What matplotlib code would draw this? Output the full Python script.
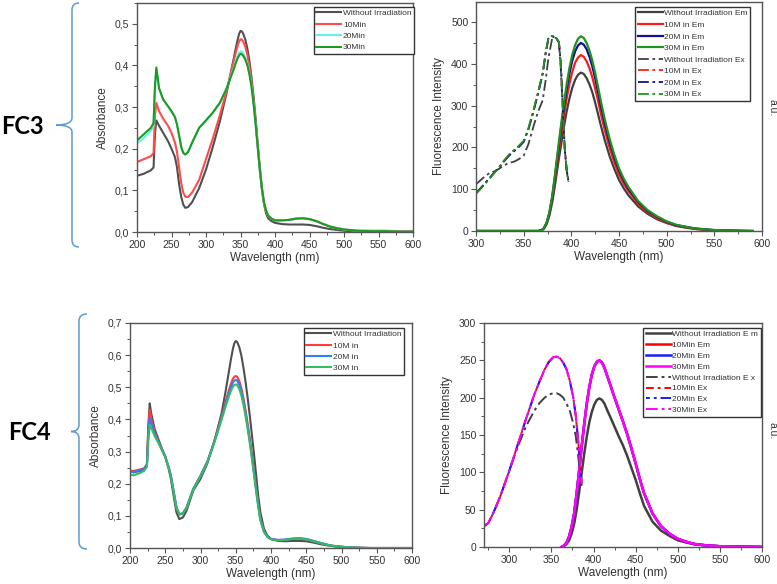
"""
plot.py

UV-Vis absorbance and fluorescence spectra of FC3 / FC4 before and after irradiation.
"""

import matplotlib
matplotlib.use("Agg")
import matplotlib.pyplot as plt
from matplotlib.path import Path
from matplotlib.patches import PathPatch
from matplotlib.ticker import MultipleLocator, FuncFormatter

plt.rcParams["font.family"] = ["Liberation Sans", "DejaVu Sans"]

# ---------------- FC3 absorbance ----------------
wl_abs3 = [200, 210, 220, 224, 226, 228, 232, 238, 245, 250, 255, 258, 261, 264, 267, 270, 274, 280,
           290, 300, 310, 320, 330, 335, 340, 343, 346, 348, 350, 352, 354, 357, 360, 363, 366, 369,
           372, 375, 378, 381, 384, 387, 390, 395, 400, 410, 420, 430, 440, 450, 460, 470, 480, 490,
           500, 520, 540, 560, 580, 600]
abs3_0 = [0.135, 0.140, 0.148, 0.155, 0.235, 0.268, 0.255, 0.238, 0.218, 0.200, 0.180, 0.155, 0.115, 0.085, 0.066, 0.058, 0.060, 0.072,
          0.105, 0.150, 0.205, 0.265, 0.335, 0.375, 0.415, 0.440, 0.463, 0.476, 0.483, 0.482, 0.476, 0.462, 0.440, 0.410, 0.370, 0.325,
          0.270, 0.210, 0.155, 0.105, 0.068, 0.045, 0.033, 0.026, 0.022, 0.019, 0.018, 0.018, 0.018, 0.017, 0.014, 0.010, 0.007, 0.005,
          0.003, 0.001, 0.0005, 0.0, 0.0, 0.0]
abs3_10 = [0.168, 0.175, 0.182, 0.190, 0.280, 0.310, 0.290, 0.272, 0.255, 0.238, 0.215, 0.192, 0.155, 0.118, 0.095, 0.085, 0.084, 0.095,
           0.125, 0.175, 0.225, 0.280, 0.340, 0.375, 0.410, 0.430, 0.448, 0.458, 0.463, 0.462, 0.457, 0.445, 0.425, 0.397, 0.360, 0.315,
           0.262, 0.205, 0.150, 0.103, 0.070, 0.050, 0.038, 0.031, 0.028, 0.028, 0.029, 0.032, 0.033, 0.031, 0.026, 0.019, 0.013, 0.009,
           0.006, 0.003, 0.003, 0.003, 0.002, 0.002]
abs3_20 = [0.213, 0.226, 0.243, 0.255, 0.345, 0.392, 0.345, 0.318, 0.302, 0.290, 0.276, 0.258, 0.232, 0.205, 0.190, 0.186, 0.192, 0.215,
           0.250, 0.268, 0.287, 0.310, 0.345, 0.370, 0.393, 0.409, 0.424, 0.430, 0.434, 0.433, 0.429, 0.419, 0.404, 0.380, 0.349, 0.308,
           0.258, 0.203, 0.150, 0.105, 0.072, 0.052, 0.040, 0.032, 0.028, 0.028, 0.029, 0.032, 0.033, 0.031, 0.026, 0.019, 0.013, 0.009,
           0.006, 0.003, 0.002, 0.002, 0.001, 0.001]
abs3_30 = [0.220, 0.235, 0.250, 0.262, 0.350, 0.395, 0.345, 0.318, 0.302, 0.290, 0.276, 0.258, 0.232, 0.205, 0.190, 0.186, 0.192, 0.215,
           0.250, 0.268, 0.287, 0.310, 0.345, 0.368, 0.390, 0.405, 0.418, 0.424, 0.428, 0.427, 0.423, 0.414, 0.400, 0.378, 0.348, 0.307,
           0.258, 0.203, 0.150, 0.105, 0.072, 0.052, 0.040, 0.032, 0.028, 0.028, 0.029, 0.032, 0.033, 0.031, 0.026, 0.019, 0.013, 0.009,
           0.006, 0.003, 0.002, 0.002, 0.001, 0.001]

# ---------------- FC3 fluorescence ----------------
em_wl3 = [300, 360, 365, 368, 371, 374, 377, 380, 383, 386, 389, 392, 395, 398, 401, 404, 407, 410,
          413, 416, 419, 422, 425, 428, 431, 435, 440, 445, 450, 455, 460, 470, 480, 490, 500, 510,
          520, 530, 540, 550, 560, 570, 580, 590]
em3_0 = [0, 0, 0, 1, 5, 16, 37, 69, 112, 159, 203, 246, 285, 317, 343, 362, 374, 379,
         376, 366, 351, 332, 307, 280, 252, 218, 180, 149, 122, 102, 85, 59, 41, 28, 19, 12,
         8, 5, 3, 2, 1, 0.5, 0, 0]
em3_10 = [0, 0, 0, 1, 5, 18, 41, 77, 125, 176, 226, 273, 316, 352, 381, 403, 415, 421,
          417, 406, 390, 368, 341, 312, 280, 242, 200, 165, 135, 113, 95, 65, 45, 31, 20, 13,
          9, 5, 3, 2, 1, 0.5, 0, 0]
em3_20 = [0, 0, 0, 1, 6, 19, 43, 82, 133, 188, 242, 292, 338, 377, 408, 430, 444, 450,
          446, 435, 417, 394, 365, 333, 299, 259, 214, 177, 145, 121, 101, 70, 48, 34, 22, 14,
          10, 6, 4, 2, 1.5, 1, 0.5, 0]
em3_30 = [0, 0, 0, 1, 6, 20, 45, 85, 138, 195, 250, 302, 350, 390, 422, 445, 460, 466,
          462, 450, 432, 408, 378, 345, 310, 268, 222, 183, 150, 125, 105, 72, 50, 35, 23, 15,
          10, 6, 4, 2.5, 1.5, 1, 0.5, 0]

ex_wl3 = [300, 305, 310, 315, 320, 325, 330, 335, 340, 345, 350, 355, 360, 365, 370,
          373, 376, 380, 384, 387, 389, 391, 393, 395, 397]
ex3_0 = [112, 122, 132, 140, 143, 150, 158, 163, 166, 172, 180, 208, 248, 285, 313,
         360, 415, 462, 462, 450, 385, 295, 200, 145, 118]
ex3_10 = [90, 102, 115, 128, 142, 155, 170, 183, 193, 203, 215, 245, 285, 330, 378,
          425, 462, 467, 462, 452, 400, 300, 200, 150, 118]
ex3_20 = [91, 103, 116, 129, 142, 154, 168, 181, 191, 201, 213, 243, 283, 328, 376,
          424, 461, 466, 461, 451, 398, 298, 198, 148, 118]
ex3_30 = [89, 101, 114, 127, 141, 155, 170, 184, 194, 204, 216, 246, 287, 332, 379,
          427, 463, 467, 463, 453, 402, 302, 202, 152, 118]

# ---------------- FC4 absorbance ----------------
wl_abs4 = [200, 205, 210, 215, 220, 224, 226, 228, 230, 235, 240, 245, 250, 255, 258, 262, 266, 270,
           275, 280, 290, 300, 310, 320, 330, 335, 340, 343, 346, 348, 350, 352, 355, 358, 361, 364,
           367, 370, 373, 376, 379, 382, 385, 390, 395, 400, 410, 420, 430, 440, 450, 460, 470, 480,
           490, 500, 510, 520, 540, 560, 580, 600]
abs4_0 = [0.240, 0.235, 0.238, 0.240, 0.245, 0.260, 0.380, 0.450, 0.420, 0.370, 0.340, 0.310, 0.285, 0.245, 0.215, 0.160, 0.110, 0.090,
          0.095, 0.115, 0.180, 0.215, 0.265, 0.335, 0.420, 0.480, 0.545, 0.585, 0.620, 0.637, 0.644, 0.641, 0.625, 0.598, 0.560, 0.515,
          0.465, 0.410, 0.350, 0.290, 0.225, 0.160, 0.110, 0.060, 0.038, 0.028, 0.022, 0.021, 0.022, 0.022, 0.021, 0.017, 0.012, 0.008,
          0.005, 0.003, 0.002, 0.001, 0.0, 0.0, 0.0, 0.0]
abs4_10 = [0.240, 0.240, 0.242, 0.245, 0.248, 0.260, 0.370, 0.430, 0.405, 0.360, 0.335, 0.310, 0.285, 0.250, 0.225, 0.175, 0.125, 0.105,
           0.108, 0.125, 0.185, 0.225, 0.270, 0.335, 0.410, 0.450, 0.490, 0.510, 0.527, 0.533, 0.535, 0.533, 0.520, 0.497, 0.465, 0.428,
           0.385, 0.340, 0.290, 0.237, 0.183, 0.133, 0.090, 0.052, 0.035, 0.028, 0.025, 0.026, 0.029, 0.030, 0.028, 0.022, 0.016, 0.010,
           0.006, 0.004, 0.002, 0.001, 0.0, 0.0, 0.0, 0.0]
abs4_20 = [0.238, 0.236, 0.240, 0.242, 0.246, 0.258, 0.350, 0.405, 0.390, 0.355, 0.332, 0.308, 0.284, 0.250, 0.225, 0.175, 0.125, 0.105,
           0.108, 0.125, 0.185, 0.225, 0.270, 0.333, 0.405, 0.443, 0.480, 0.499, 0.515, 0.521, 0.523, 0.521, 0.508, 0.486, 0.455, 0.419,
           0.377, 0.333, 0.284, 0.232, 0.179, 0.130, 0.088, 0.051, 0.035, 0.028, 0.025, 0.026, 0.029, 0.030, 0.028, 0.022, 0.016, 0.010,
           0.006, 0.004, 0.002, 0.001, 0.0, 0.0, 0.0, 0.0]
abs4_30 = [0.228, 0.226, 0.230, 0.234, 0.240, 0.252, 0.335, 0.383, 0.375, 0.348, 0.328, 0.305, 0.282, 0.248, 0.222, 0.172, 0.123, 0.104,
           0.107, 0.124, 0.183, 0.223, 0.268, 0.330, 0.400, 0.436, 0.470, 0.488, 0.502, 0.507, 0.509, 0.507, 0.495, 0.474, 0.444, 0.409,
           0.368, 0.325, 0.277, 0.226, 0.175, 0.127, 0.086, 0.050, 0.034, 0.027, 0.024, 0.025, 0.028, 0.029, 0.027, 0.021, 0.015, 0.010,
           0.006, 0.004, 0.002, 0.001, 0.0, 0.0, 0.0, 0.0]

# ---------------- FC4 fluorescence ----------------
ex_wl4 = [270, 275, 280, 285, 290, 300, 310, 320, 330, 336, 342, 347, 352, 356, 360, 364,
          368, 372, 376, 379, 382, 384, 386]
ex4_0 = [28, 32, 43, 56, 70, 102, 134, 162, 183, 193, 200, 204, 206, 206, 204, 200,
         192, 182, 165, 148, 120, 100, 82]
ex4_irr = [28, 32, 43, 56, 70, 102, 137, 172, 205, 222, 238, 248, 254, 255, 253, 247,
           238, 222, 200, 175, 140, 110, 85]

em_wl4 = [362, 365, 368, 371, 374, 377, 380, 383, 386, 389, 392, 395, 398, 401, 404, 407, 410, 413, 416,
          420, 425, 430, 435, 440, 445, 450, 455, 460, 470, 480, 490, 500, 510, 520, 535, 550, 570, 600]
em4_0 = [0, 1, 4, 9, 18, 31, 50, 74, 100, 125, 148, 167, 181, 191, 197, 199, 197, 192, 184,
         174, 161, 148, 136, 122, 106, 90, 72, 55, 34, 22, 15, 9, 6, 3.5, 2, 1, 0.5, 0]
em4_irr = [0, 2, 6, 14, 27, 45, 72, 103, 135, 165, 192, 214, 231, 242, 248, 250, 247, 240, 230,
           217, 200, 184, 168, 151, 132, 112, 91, 72, 45, 28, 18, 11, 7, 4, 2, 1, 0.5, 0]

abs3_labels = ["Without Irradiation", "10Min", "20Min", "30Min"]
fl3_labels = ["Without Irradiation Em", "10M in Em", "20M in Em", "30M in Em",
              "Without Irradiation Ex", "10M in Ex", "20M in Ex", "30M in Ex"]
abs4_labels = ["Without Irradiation", "10M in", "20M in", "30M in"]
fl4_labels = ["Without Irradiation E m", "10Min Em", "20Min Em", "30Min Em",
              "Without Irradiation E x", "10Min Ex", "20Min Ex", "30Min Ex"]

W, H = 777, 584
DASHDOT = (0, (6, 2, 1.5, 2))
TXT = "#333333"


def px_axes(fig, l, t, r, b):
    return fig.add_axes([l / W, 1 - b / H, (r - l) / W, (b - t) / H])


def style(ax, xlim, ylim, xmaj, ymaj, comma=False):
    ax.set_xlim(*xlim)
    ax.set_ylim(*ylim)
    ax.xaxis.set_major_locator(MultipleLocator(xmaj))
    ax.xaxis.set_minor_locator(MultipleLocator(xmaj / 2))
    ax.yaxis.set_major_locator(MultipleLocator(ymaj))
    ax.yaxis.set_minor_locator(MultipleLocator(ymaj / 2))
    if comma:
        ax.yaxis.set_major_formatter(FuncFormatter(lambda v, p: f"{v:.1f}".replace(".", ",")))
    ax.tick_params(which="major", direction="out", length=3.5, width=0.8,
                   labelsize=7.5, colors="#555555", labelcolor=TXT, pad=2)
    ax.tick_params(which="minor", direction="out", length=2, width=0.7, colors="#555555")
    for s in ax.spines.values():
        s.set_color("#555555")
        s.set_linewidth(1.0)
    ax.set_xlabel("Wavelength (nm)", fontsize=8.5, color=TXT, labelpad=2)


def legend(ax, x, y, spacing):
    leg = ax.legend(loc="upper left", bbox_to_anchor=(x, y), fontsize=6, frameon=True,
                    fancybox=False, edgecolor="#333333", framealpha=1, handlelength=3.0,
                    handletextpad=0.2, labelspacing=spacing, borderpad=0.3, borderaxespad=0)
    leg.get_frame().set_linewidth(1.0)
    for t in leg.get_texts():
        t.set_color(TXT)


def brace(ov, x, y0, y1, tip, hook):
    ym = (y0 + y1) / 2
    r = 7
    verts = [(x + hook, y0), (x, y0), (x, y0 + r),
             (x, ym - r), (x, ym), (x - tip, ym),
             (x, ym), (x, ym + r),
             (x, y1 - r), (x, y1), (x + hook, y1)]
    codes = [Path.MOVETO, Path.CURVE3, Path.CURVE3,
             Path.LINETO, Path.CURVE3, Path.CURVE3,
             Path.CURVE3, Path.CURVE3,
             Path.LINETO, Path.CURVE3, Path.CURVE3]
    ov.add_patch(PathPatch(Path(verts, codes), fill=False, edgecolor="#5b9bd5", lw=1.1))


def main():
    fig = plt.figure(figsize=(W / 100, H / 100), dpi=100)

    # FC3 absorbance
    ax1 = px_axes(fig, 137, 3, 413, 232)
    ax1.plot(wl_abs3, abs3_0, color="#505050", lw=1.5, label=abs3_labels[0])
    ax1.plot(wl_abs3, abs3_10, color="#ff4b4b", lw=1.5, label=abs3_labels[1])
    ax1.plot(wl_abs3, abs3_20, color="#66f0f0", lw=1.5, label=abs3_labels[2])
    ax1.plot(wl_abs3, abs3_30, color="#1f9a1f", lw=1.5, label=abs3_labels[3])
    style(ax1, (200, 600), (0, 0.55), 50, 0.1, comma=True)
    ax1.set_ylabel("Absorbance", fontsize=8.5, color=TXT, labelpad=4)
    legend(ax1, 0.641, 0.983, 0.43)

    # FC3 fluorescence
    ax2 = px_axes(fig, 476, 2, 762, 231)
    ax2.plot(em_wl3, em3_0, color="#404040", lw=1.6, label=fl3_labels[0])
    ax2.plot(em_wl3, em3_10, color="#ff1a1a", lw=1.6, label=fl3_labels[1])
    ax2.plot(em_wl3, em3_20, color="#101090", lw=1.6, label=fl3_labels[2])
    ax2.plot(em_wl3, em3_30, color="#1e941e", lw=1.6, label=fl3_labels[3])
    ax2.plot(ex_wl3, ex3_0, color="#404040", lw=1.3, ls=DASHDOT, label=fl3_labels[4])
    ax2.plot(ex_wl3, ex3_10, color="#ff1a1a", lw=1.3, ls=DASHDOT, label=fl3_labels[5])
    ax2.plot(ex_wl3, ex3_20, color="#101090", lw=1.3, ls=DASHDOT, label=fl3_labels[6])
    ax2.plot(ex_wl3, ex3_30, color="#1e941e", lw=1.3, ls=DASHDOT, label=fl3_labels[7])
    style(ax2, (300, 600), (0, 548), 50, 100)
    ax2.set_ylabel("Fluorescence Intensity", fontsize=8.5, color=TXT, labelpad=4)
    legend(ax2, 0.556, 0.978, 0.45)

    # FC4 absorbance
    ax3 = px_axes(fig, 130, 323, 412, 548)
    ax3.plot(wl_abs4, abs4_0, color="#505050", lw=1.5, label=abs4_labels[0])
    ax3.plot(wl_abs4, abs4_10, color="#ff3b3b", lw=1.5, label=abs4_labels[1])
    ax3.plot(wl_abs4, abs4_20, color="#2d7fff", lw=1.5, label=abs4_labels[2])
    ax3.plot(wl_abs4, abs4_30, color="#33bb66", lw=1.5, label=abs4_labels[3])
    style(ax3, (200, 600), (0, 0.7), 50, 0.1, comma=True)
    ax3.set_ylabel("Absorbance", fontsize=8.5, color=TXT, labelpad=4)
    legend(ax3, 0.617, 0.978, 0.42)

    # FC4 fluorescence
    ax4 = px_axes(fig, 484, 323, 762, 547)
    ax4.plot(em_wl4, em4_0, color="#404040", lw=1.8, label=fl4_labels[0])
    ax4.plot(em_wl4, em4_irr, color="#ff0000", lw=1.8, label=fl4_labels[1])
    ax4.plot(em_wl4, em4_irr, color="#1a1aff", lw=1.8, label=fl4_labels[2])
    ax4.plot(em_wl4, em4_irr, color="#ff00ff", lw=1.8, label=fl4_labels[3])
    ax4.plot(ex_wl4, ex4_0, color="#404040", lw=1.4, ls=DASHDOT, label=fl4_labels[4])
    ax4.plot(ex_wl4, ex4_irr, color="#ff0000", lw=1.4, ls=(2, (6, 2, 1.5, 2)), label=fl4_labels[5])
    ax4.plot(ex_wl4, ex4_irr, color="#1a1aff", lw=1.4, ls=(4, (6, 2, 1.5, 2)), label=fl4_labels[6])
    ax4.plot(ex_wl4, ex4_irr, color="#ff00ff", lw=1.4, ls=DASHDOT, label=fl4_labels[7])
    style(ax4, (270, 600), (0, 300), 50, 50)
    ax4.set_ylabel("Fluorescence Intensity", fontsize=8.5, color=TXT, labelpad=4)
    legend(ax4, 0.572, 0.978, 0.36)

    # overlay for sample labels, braces and a.u. notes
    ov = fig.add_axes([0, 0, 1, 1], zorder=-1)
    ov.set_xlim(0, W)
    ov.set_ylim(H, 0)
    ov.axis("off")
    brace(ov, 72, 3, 247, 16, 7)
    brace(ov, 79, 314, 549, 8, 8)
    ov.text(22, 127, "FC3", fontsize=17, fontweight="bold", family=["Lato", "DejaVu Sans"],
            ha="center", va="center", color="black")
    ov.text(29, 432, "FC4", fontsize=17, fontweight="bold", family=["Lato", "DejaVu Sans"],
            ha="center", va="center", color="black")
    ov.text(772, 108, "a.u.", fontsize=7.5, rotation=270, ha="center", va="center", color=TXT)
    ov.text(772, 431, "a.u.", fontsize=7.5, rotation=270, ha="center", va="center", color=TXT)

    fig.savefig("out.png", dpi=100)


if __name__ == "__main__":
    main()
